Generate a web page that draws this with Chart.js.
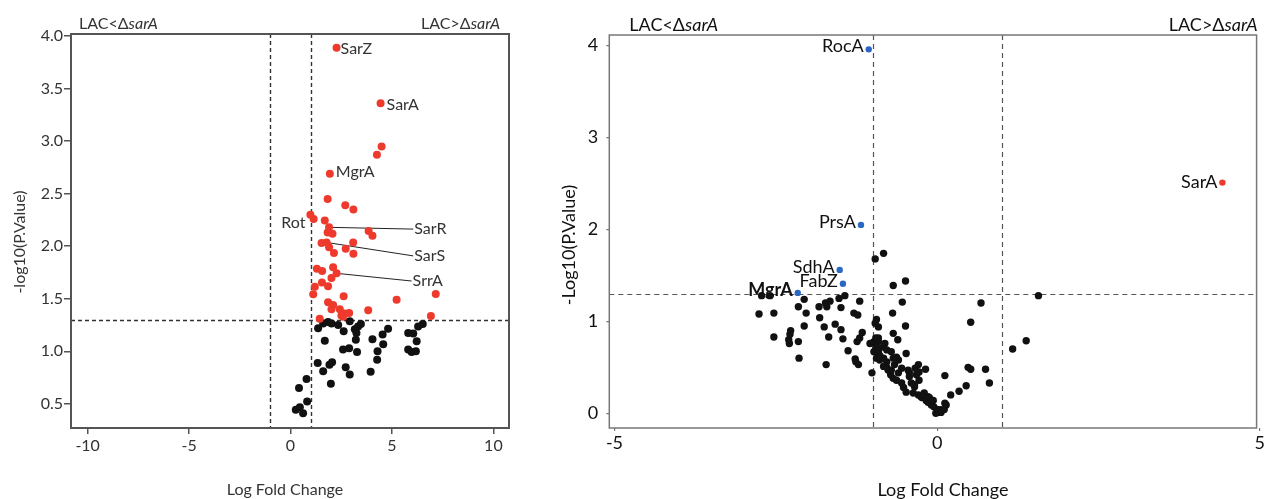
<!DOCTYPE html>
<html>
<head>
<meta charset="utf-8">
<script src="https://cdn.jsdelivr.net/npm/chart.js@4.4.1/dist/chart.umd.min.js"></script>
<style>
  html, body { margin: 0; padding: 0; background: #fff; }
  #wrap { position: relative; width: 1266px; height: 499px; overflow: hidden; }
  canvas { position: absolute; top: 0; }
  #panelA { left: 0; }
  #panelB { left: 540px; }
</style>
</head>
<body>
<div id="wrap">
  <canvas id="panelA" width="540" height="499"></canvas>
  <canvas id="panelB" width="726" height="499"></canvas>
</div>
<script>
// Significance cut-offs shared by both volcano plots
const LFC_CUTOFF = 1;
const P_CUTOFF = 1.3; // -log10(0.05)

// ---- Panel A: log fold change vs -log10(p) ----
const aUpLfc = [2.27, 4.44, 4.49, 4.26, 1.94, 1.83, 2.70, 3.10, 0.98, 1.14, 1.69, 1.90, 1.83, 2.07, 3.85, 4.04,
                1.53, 1.78, 1.90, 2.14, 2.72, 3.09, 3.10, 1.30, 1.56, 2.10, 2.27, 2.02, 1.20, 1.55, 1.85, 1.12,
                2.62, 5.23, 7.16, 3.83, 1.85, 2.10, 2.02, 2.43, 2.68, 2.89, 2.51, 1.44, 6.92, 2.59];
const aUpP   = [3.89, 3.36, 2.95, 2.87, 2.69, 2.45, 2.39, 2.35, 2.30, 2.26, 2.245, 2.18, 2.13, 2.12, 2.145, 2.10,
                2.03, 2.036, 1.99, 1.935, 1.975, 2.036, 1.928, 1.785, 1.765, 1.80, 1.742, 1.698, 1.615, 1.654, 1.618, 1.542,
                1.523, 1.49, 1.545, 1.39, 1.467, 1.44, 1.40, 1.40, 1.36, 1.365, 1.34, 1.31, 1.335, 1.33];
const aNsLfc = [1.36, 1.61, 1.85, 2.02, 2.35, 2.62, 2.92, 3.17, 3.33, 3.47, 3.25, 1.69, 2.59, 2.89, 3.22, 3.28,
                4.04, 4.54, 4.81, 4.57, 4.29, 4.27, 3.95, 1.34, 1.61, 1.92, 2.05, 1.99, 2.72, 2.92, 5.80, 6.05,
                6.22, 5.80, 5.97, 6.18, 6.29, 6.52, 0.79, 0.42, 0.82, 0.26, 0.46, 0.62];
const aNsP   = [1.22, 1.265, 1.28, 1.265, 1.25, 1.19, 1.285, 1.21, 1.235, 1.26, 1.175, 1.10, 1.016, 1.028, 1.11, 0.994,
                1.115, 1.16, 1.215, 1.066, 1.0, 0.92, 0.805, 0.889, 0.809, 0.873, 0.895, 0.69, 0.848, 0.78, 1.175, 1.17,
                1.096, 1.016, 0.994, 1.0, 1.235, 1.26, 0.736, 0.65, 0.522, 0.443, 0.468, 0.411];
const aNames    = ['SarZ', 'SarA', 'MgrA', 'Rot', 'SarR', 'SarS', 'SrrA'];
const aNameLfc  = [2.27, 4.44, 1.94, 0.98, 1.90, 1.78, 2.27];
const aNameP    = [3.89, 3.36, 2.69, 2.30, 2.18, 2.036, 1.742];
const aXTicks = [-10, -5, 0, 5, 10];
const aYTicks = [0.5, 1.0, 1.5, 2.0, 2.5, 3.0, 3.5, 4.0];

// ---- Panel B ----
const bNsLfc = [-2.72, -2.59, -2.76, -2.53, -2.53, -2.27, -2.28, -2.30, -2.29, -2.15, -2.14, -2.15, -2.06, -2.03, -2.06, -1.83,
                -1.82, -1.73, -1.71, -1.66, -1.75, -1.68, -1.72, -1.58, -1.52, -1.49, -1.49, -1.46, -1.43, -1.20, -1.29, -1.23,
                -1.16, -1.24, -1.20, -1.38, -1.27, -1.22, -1.26, -1.01, -1.04, -0.98, -0.96, -0.83, -0.68, -0.49, -0.54, -0.69,
                -0.49, -0.61, -0.68, -0.48, -0.94, -0.91, -0.96, -0.95, -0.91, -0.95, -0.91, -0.98, -0.81, -0.84, -0.78, -0.94,
                -0.89, -0.83, -0.89, -0.78, -0.71, -0.68, -0.78, -0.71, -0.66, -0.60, -0.63, -0.55, -0.60, -0.72, -0.68, -0.63,
                -0.55, -0.52, -0.48, -0.45, -0.43, -0.34, -0.29, -0.32, -0.28, -0.18, -0.40, -0.35, -0.37, -0.29, -0.25, -0.20,
                -0.14, -0.23, -0.17, -0.12, -0.14, -0.09, -0.06, -0.05, 0.02, -0.02, 0.06, 0.11, 0.14, 0.12, 0.01, 0.06,
                0.12, 0.21, 0.34, 0.45, 0.48, 0.52, 0.75, 0.81, 0.52, 0.68, 1.17, 1.38, 1.57, -0.43, -0.35, -0.28,
                -0.83, -0.76, -0.91, -0.94];
const bNsP   = [1.28, 1.28, 1.08, 1.09, 0.83, 0.90, 0.86, 0.80, 0.76, 0.78, 0.60, 1.16, 1.24, 1.09, 0.95, 1.16,
                1.04, 1.20, 1.16, 1.22, 0.94, 0.83, 0.53, 0.97, 1.25, 1.15, 0.91, 0.81, 1.28, 1.22, 1.09, 1.07,
                0.88, 0.78, 0.82, 0.68, 0.59, 0.53, 0.56, 0.44, 0.76, 0.78, 1.68, 1.74, 1.39, 1.44, 1.21, 1.09,
                0.95, 0.80, 0.87, 0.65, 1.02, 0.94, 0.98, 0.82, 0.78, 0.71, 0.67, 0.67, 0.76, 0.72, 0.69, 0.60,
                0.58, 0.60, 0.63, 0.56, 0.67, 0.60, 0.50, 0.47, 0.53, 0.58, 0.61, 0.49, 0.44, 0.42, 0.38, 0.36,
                0.33, 0.28, 0.23, 0.47, 0.44, 0.49, 0.53, 0.42, 0.45, 0.48, 0.33, 0.29, 0.22, 0.20, 0.18, 0.22,
                0.18, 0.17, 0.14, 0.17, 0.12, 0.09, 0.14, 0.07, 0.04, 0.00, 0.01, 0.04, 0.09, 0.11, 0.01, 0.04,
                0.41, 0.20, 0.24, 0.30, 0.50, 0.48, 0.48, 0.33, 0.99, 1.20, 0.70, 0.79, 1.28, 0.40, 0.31, 0.36,
                0.51, 0.47, 0.82, 0.72];
const bDownNames = ['RocA', 'PrsA', 'SdhA', 'FabZ', 'MgrA'];
const bDownLfc   = [-1.06, -1.18, -1.51, -1.46, -2.16];
const bDownP     = [3.96, 2.05, 1.56, 1.41, 1.31];
const bUpNames = ['SarA'];
const bUpLfc   = [4.42];
const bUpP     = [2.51];
const bXTicks = [-5, 0, 5];
const bYTicks = [0, 1, 2, 3, 4];

// ---- drawing helpers ----
const FONT = 'Lato, "Open Sans", "DejaVu Sans", sans-serif';
const RED = '#ee3a2c', BLUE = '#2b68c4', DOT = '#111111';

const pts = (xs, ys) => xs.map((x, i) => ({ x, y: ys[i] }));

function label(ctx, str, x, y, o = {}) {
  ctx.save();
  ctx.translate(x, y);
  if (o.rotate) ctx.rotate(o.rotate);
  ctx.font = `${o.weight || 'normal'} ${o.size || 16}px ${FONT}`;
  ctx.fillStyle = o.color || '#333';
  ctx.textAlign = o.align || 'left';
  ctx.textBaseline = 'middle';
  ctx.fillText(str, 0, 0);
  ctx.restore();
}

// "LAC<ΔsarA" style tag: gene name in italics
function tag(ctx, parts, x, y, size, color, align) {
  ctx.save();
  const fonts = parts.map(p => `${p[1] ? 'italic ' : ''}${size}px ${FONT}`);
  const widths = parts.map((p, i) => { ctx.font = fonts[i]; return ctx.measureText(p[0]).width; });
  let cx = align === 'right' ? x - widths.reduce((a, b) => a + b, 0) : x;
  ctx.fillStyle = color;
  ctx.textBaseline = 'middle';
  ctx.textAlign = 'left';
  parts.forEach((p, i) => { ctx.font = fonts[i]; ctx.fillText(p[0], cx, y); cx += widths[i]; });
  ctx.restore();
}

function cutoffLines(chart, dash, color, width) {
  const { ctx, chartArea: a, scales: { x, y } } = chart;
  ctx.save();
  ctx.beginPath();
  ctx.rect(a.left, a.top, a.right - a.left, a.bottom - a.top);
  ctx.clip();
  ctx.setLineDash(dash);
  ctx.strokeStyle = color;
  ctx.lineWidth = width;
  ctx.beginPath();
  [-LFC_CUTOFF, LFC_CUTOFF].forEach(v => {
    const px = Math.round(x.getPixelForValue(v)) + 0.5;
    ctx.moveTo(px, a.top); ctx.lineTo(px, a.bottom);
  });
  const py = Math.round(y.getPixelForValue(P_CUTOFF)) + 0.5;
  ctx.moveTo(a.left, py); ctx.lineTo(a.right, py);
  ctx.stroke();
  ctx.restore();
}

function frame(chart, color, width) {
  const { ctx, chartArea: a } = chart;
  ctx.save();
  ctx.strokeStyle = color;
  ctx.lineWidth = width;
  ctx.strokeRect(a.left, a.top, a.right - a.left, a.bottom - a.top);
  ctx.restore();
}

function axisCfg(ticksArr, min, max, o) {
  return {
    type: 'linear', min, max,
    afterBuildTicks: s => { s.ticks = ticksArr.map(v => ({ value: v })); },
    afterFit: s => { if (o.width) s.width = o.width; if (o.height) s.height = o.height; },
    ticks: {
      font: { family: FONT, size: o.fontSize, weight: o.fontWeight || 'normal' },
      color: o.color,
      padding: o.padding,
      maxRotation: 0,
      autoSkip: false,
      callback: v => o.fmt(v)
    },
    grid: { display: true, drawOnChartArea: false, drawTicks: true, tickLength: o.tickLength, color: o.tickColor, lineWidth: o.tickWidth },
    border: { display: false }
  };
}

// ---- Panel A ----
const aLabelStyle = {
  SarZ: { dx: 4, dy: 1 },
  SarA: { dx: 6, dy: 1.5 },
  MgrA: { dx: 6, dy: -1.5 },
  Rot:  { dx: -5, dy: 8, align: 'right' },
  SarR: { to: [6.05, 2.163] },
  SarS: { to: [6.05, 1.908] },
  SrrA: { to: [5.97, 1.669] }
};

new Chart(document.getElementById('panelA'), {
  type: 'scatter',
  data: {
    datasets: [
      { data: pts(aUpLfc, aUpP), backgroundColor: RED, pointRadius: 4, borderWidth: 0, order: 0 },
      { data: pts(aNsLfc, aNsP), backgroundColor: DOT, pointRadius: 4, borderWidth: 0, order: 1 }
    ]
  },
  options: {
    responsive: false, animation: false, devicePixelRatio: 1, events: [],
    layout: { padding: { top: 34, right: 31, left: 0, bottom: 0 } },
    plugins: { legend: { display: false }, tooltip: { enabled: false } },
    scales: {
      x: axisCfg(aXTicks, -10.82, 10.77, { height: 71, fontSize: 16, color: '#333', padding: 2, tickLength: 6, tickColor: '#555', tickWidth: 1.5, fmt: v => String(v) }),
      y: axisCfg(aYTicks, 0.27, 4.02, { width: 71, fontSize: 16, color: '#333', padding: 1, tickLength: 7, tickColor: '#555', tickWidth: 1.5, fmt: v => Number(v).toFixed(1) })
    }
  },
  plugins: [{
    id: 'panelADecor',
    beforeDatasetsDraw(chart) {
      cutoffLines(chart, [4, 3], '#333', 1.4);
      const { ctx, scales: { x, y } } = chart;
      ctx.save();
      ctx.strokeStyle = '#222';
      ctx.lineWidth = 1;
      aNames.forEach((n, i) => {
        const s = aLabelStyle[n];
        if (!s.to) return;
        ctx.beginPath();
        ctx.moveTo(x.getPixelForValue(aNameLfc[i]), y.getPixelForValue(aNameP[i]));
        ctx.lineTo(x.getPixelForValue(s.to[0]), y.getPixelForValue(s.to[1]));
        ctx.stroke();
      });
      ctx.restore();
    },
    afterDraw(chart) {
      const { ctx, chartArea: a, scales: { x, y } } = chart;
      frame(chart, '#555', 2);
      aNames.forEach((n, i) => {
        const s = aLabelStyle[n];
        if (s.to) {
          label(ctx, n, x.getPixelForValue(s.to[0]) + 1, y.getPixelForValue(s.to[1]), { size: 16 });
        } else {
          label(ctx, n, x.getPixelForValue(aNameLfc[i]) + s.dx, y.getPixelForValue(aNameP[i]) + s.dy, { size: 16, align: s.align || 'left' });
        }
      });
      tag(ctx, [['LAC<Δ', false], ['sarA', true]], a.left + 8, 24, 16, '#333', 'left');
      tag(ctx, [['LAC>Δ', false], ['sarA', true]], a.right - 9, 24, 16, '#333', 'right');
      label(ctx, 'Log Fold Change', (a.left + a.right) / 2 - 5, 490, { size: 16, align: 'center' });
      label(ctx, '-log10(P.Value)', 20, 242, { size: 16, align: 'center', rotate: -Math.PI / 2 });
    }
  }]
});

// ---- Panel B ----
new Chart(document.getElementById('panelB'), {
  type: 'scatter',
  data: {
    datasets: [
      { data: pts(bDownLfc, bDownP), backgroundColor: BLUE, pointRadius: 3.2, borderWidth: 0, order: 0 },
      { data: pts(bUpLfc, bUpP), backgroundColor: RED, pointRadius: 3.2, borderWidth: 0, order: 0 },
      { data: pts(bNsLfc, bNsP), backgroundColor: DOT, pointRadius: 3.7, borderWidth: 0, order: 1 }
    ]
  },
  options: {
    responsive: false, animation: false, devicePixelRatio: 1, events: [],
    layout: { padding: { top: 35, right: 5, left: 0, bottom: 0 } },
    plugins: { legend: { display: false }, tooltip: { enabled: false } },
    scales: {
      x: axisCfg(bXTicks, -5.08, 4.95, { height: 71, fontSize: 18, color: '#111', padding: 1, tickLength: 3, tickColor: '#777', tickWidth: 1.2, fmt: v => String(v) }),
      y: axisCfg(bYTicks, -0.16, 4.116, { width: 69.3, fontSize: 18, color: '#111', padding: 8, tickLength: 3, tickColor: '#777', tickWidth: 1.2, fmt: v => String(v) })
    }
  },
  plugins: [{
    id: 'panelBDecor',
    beforeDatasetsDraw(chart) {
      cutoffLines(chart, [5, 4], '#555', 1.2);
    },
    afterDraw(chart) {
      const { ctx, chartArea: a, scales: { x, y } } = chart;
      frame(chart, '#777', 1.5);
      bDownNames.forEach((n, i) => {
        label(ctx, n, x.getPixelForValue(bDownLfc[i]) - 5, y.getPixelForValue(bDownP[i]) - 3,
          { size: 18, align: 'right', color: '#111', weight: n === 'MgrA' ? 'bold' : 'normal' });
      });
      bUpNames.forEach((n, i) => {
        label(ctx, n, x.getPixelForValue(bUpLfc[i]) - 5, y.getPixelForValue(bUpP[i]), { size: 18, align: 'right', color: '#111' });
      });
      tag(ctx, [['LAC<Δ', false], ['sarA', true]], a.left + 20, 25, 18, '#111', 'left');
      tag(ctx, [['LAC>Δ', false], ['sarA', true]], a.right + 1, 25, 18, '#111', 'right');
      label(ctx, 'Log Fold Change', 403, 490, { size: 18, align: 'center', color: '#111' });
      label(ctx, '-Log10(P.Value)', 29, 245, { size: 18, align: 'center', color: '#111', rotate: -Math.PI / 2 });
    }
  }]
});
</script>
</body>
</html>
